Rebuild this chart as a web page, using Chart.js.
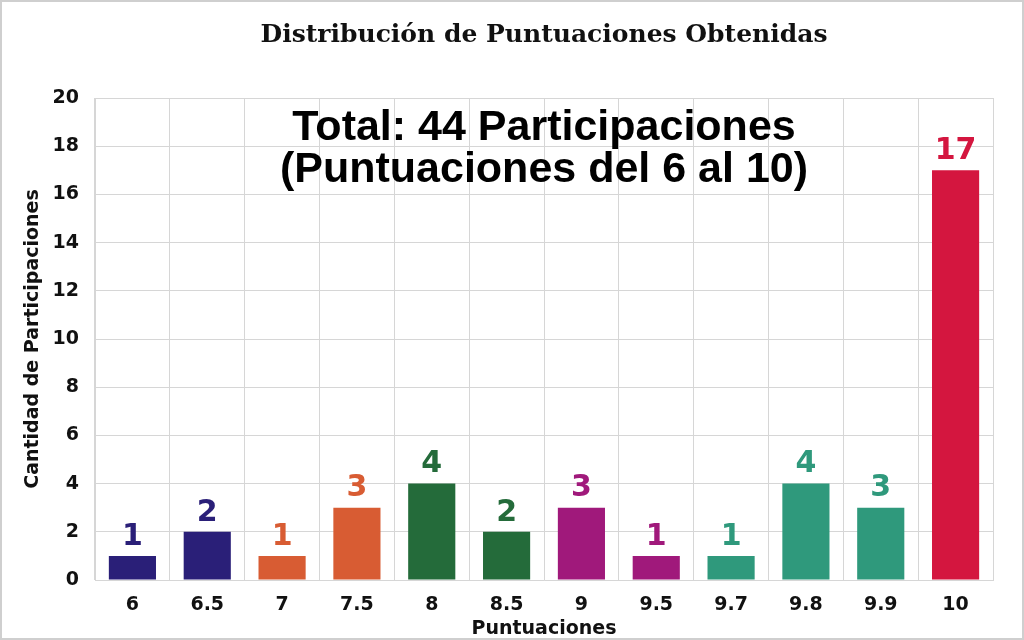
<!DOCTYPE html>
<html>
<head>
<meta charset="utf-8">
<script src="https://cdn.jsdelivr.net/npm/chart.js@4"></script>
<style>
  html, body { margin: 0; padding: 0; background: #fff; }
  #wrap { width: 1024px; height: 640px; }
</style>
</head>
<body>
<div id="wrap"><canvas id="c" width="1024" height="640"></canvas></div>
<script>
var puntuaciones = ['6', '6.5', '7', '7.5', '8', '8.5', '9', '9.5', '9.7', '9.8', '9.9', '10'];
var participaciones = [1, 2, 1, 3, 4, 2, 3, 1, 1, 4, 3, 17];
var colores = ['#2a1f78', '#2a1f78', '#d85c33', '#d85c33', '#246b3a', '#246b3a',
               '#a0197b', '#a0197b', '#2f997c', '#2f997c', '#2f997c', '#d4163f'];
var yTicks = [0, 2, 4, 6, 8, 10, 12, 14, 16, 18, 20];
var notaTotal = ['Total: 44 Participaciones', '(Puntuaciones del 6 al 10)'];

var sans = "'DejaVu Sans', Verdana, sans-serif";

// marco gris fino alrededor del lienzo
var marco = {
    id: 'marco',
    beforeDraw: function(chart) {
        var ctx = chart.ctx;
        ctx.save();
        ctx.strokeStyle = '#cfcfcf';
        ctx.lineWidth = 2;
        ctx.strokeRect(1, 1, chart.width - 2, chart.height - 2);
        ctx.restore();
    }
};

// etiquetas de valor encima de cada barra + texto del total
var etiquetas = {
    id: 'etiquetas',
    afterDatasetsDraw: function(chart) {
        var ctx = chart.ctx;
        var meta = chart.getDatasetMeta(0);
        ctx.save();
        ctx.font = "bold 30px " + sans;
        ctx.textAlign = 'center';
        ctx.textBaseline = 'bottom';
        meta.data.forEach(function(bar, i) {
            ctx.fillStyle = colores[i];
            ctx.fillText(participaciones[i], bar.x, bar.y - 4);
        });
        var area = chart.chartArea;
        var cx = (area.left + area.right) / 2;
        ctx.fillStyle = '#000';
        ctx.font = "bold 43px 'Liberation Sans', Arial, sans-serif";
        ctx.textBaseline = 'middle';
        ctx.fillText(notaTotal[0], cx, 128);
        ctx.fillText(notaTotal[1], cx, 170);
        ctx.restore();
    }
};

new Chart(document.getElementById('c').getContext('2d'), {
    type: 'bar',
    data: {
        labels: puntuaciones,
        datasets: [{
            label: 'Participaciones',
            data: participaciones,
            backgroundColor: colores,
            barPercentage: 0.7,
            categoryPercentage: 0.9
        }]
    },
    options: {
        responsive: false,
        animation: false,
        layout: { padding: { left: 22, right: 31, top: 0, bottom: 0 } },
        plugins: {
            legend: { display: false },
            tooltip: { enabled: false },
            title: {
                display: true,
                fullSize: false,   // centrado sobre el área del gráfico
                text: 'Distribución de Puntuaciones Obtenidas',
                color: '#111',
                font: { family: "'DejaVu Serif', serif", size: 25, weight: 'bold' },
                padding: { top: 20, bottom: 48 }
            }
        },
        scales: {
            x: {
                afterFit: function(axis) { axis.height = 60; },
                grid: { color: '#d6d6d6', offset: true, drawTicks: false },
                border: { color: '#d6d6d6' },
                ticks: { color: '#111', font: { family: sans, size: 19, weight: 'bold' }, padding: 14 },
                title: {
                    display: true,
                    text: 'Puntuaciones',
                    color: '#111',
                    font: { family: sans, size: 19, weight: 'bold' },
                    padding: { top: 0, bottom: 0 }
                }
            },
            y: {
                min: 0,
                max: 20,
                afterBuildTicks: function(axis) {
                    axis.ticks = yTicks.map(function(v) { return { value: v }; });
                },
                afterFit: function(axis) { axis.width = 73; },
                grid: { color: '#d6d6d6', drawTicks: false },
                border: { color: '#d6d6d6' },
                ticks: { color: '#111', font: { family: sans, size: 19, weight: 'bold' }, padding: 16 },
                title: {
                    display: true,
                    text: 'Cantidad de Participaciones',
                    color: '#111',
                    font: { family: sans, size: 19, weight: 'bold' },
                    padding: { top: 0, bottom: 0 }
                }
            }
        }
    },
    plugins: [marco, etiquetas]
});
</script>
</body>
</html>
